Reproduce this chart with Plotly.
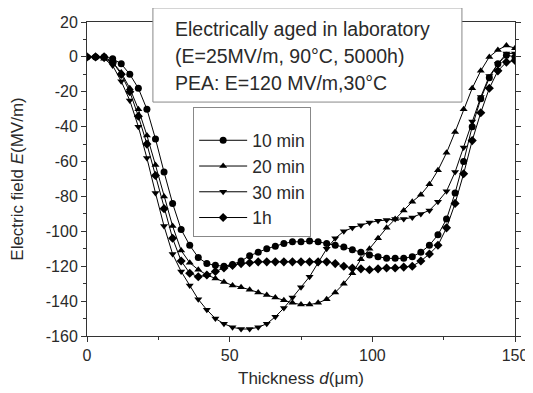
import plotly.graph_objects as go

thickness = [0, 3, 6, 9, 12, 15, 18, 21, 24, 27, 30, 33, 36, 39, 42, 45, 48, 51, 54, 57,
             60, 63, 66, 69, 72, 75, 78, 81, 84, 87, 90, 93, 96, 99, 102, 105, 108, 111, 114, 117,
             120, 123, 126, 129, 132, 135, 138, 141, 144, 147, 150]

e_10min = [0, 0, 0, -1, -4, -10, -18, -30, -47, -66, -84, -99, -108, -115, -118.5, -119.5, -120, -119, -117, -114,
           -112, -110, -108.5, -107, -106, -106, -105.5, -106, -107, -108, -109, -110.5, -112, -113.5, -114.5, -115.5, -115.5, -115.5, -114.5, -112,
           -108, -102, -93, -78, -60, -40, -24, -12, -4, 1, 0]

e_20min = [0, 0, -1, -3, -9, -18, -30, -45, -62, -80, -97, -111, -118, -122, -125, -127, -129, -131, -132, -133.5,
           -135, -136.5, -138, -139.5, -141, -142, -142, -141, -139, -135, -130, -124, -116, -110, -104, -98, -93, -88, -83, -79,
           -73, -65, -55, -43, -30, -18, -8, 0, 4, 6.5, 5]

e_30min = [0, 0, -1, -5, -14, -25, -40, -58, -78, -97, -113, -123, -131, -139, -145, -150, -153, -155, -156, -156,
           -155, -153, -149, -144, -138, -132, -126, -118, -110, -104, -100, -98, -96.5, -95, -94, -93.5, -93, -93, -92, -90,
           -88, -83, -77, -66, -52, -37, -23, -11, -4, 2, 2]

e_1h = [0, 0, 0, -3, -10, -20, -34, -50, -68, -87, -104, -117, -124, -126, -125, -123, -121, -119.5, -118.5, -118,
        -117.5, -117.5, -117.5, -117.5, -117.5, -117.5, -117.5, -117.5, -117.5, -118.5, -120, -121, -121.5, -122, -121.5, -121, -121, -120.5, -120, -117,
        -113, -108, -98, -84, -67, -48, -32, -18, -8, -3, -2]

series_names = ["10 min", "20 min", "30 min", "1h"]
series_values = [e_10min, e_20min, e_30min, e_1h]
series_symbols = ["circle", "triangle-up", "triangle-down", "diamond"]

x_ticks = [0, 50, 100, 150]
y_ticks = [-160, -140, -120, -100, -80, -60, -40, -20, 0, 20]

note_lines = ["Electrically aged in laboratory",
              "(E=25MV/m, 90°C, 5000h)",
              "PEA: E=120 MV/m,30°C"]

FONT = "Liberation Sans, Arial, sans-serif"
TXT = "#2a2a2a"

fig = go.Figure()
for name, vals, sym in zip(series_names, series_values, series_symbols):
    fig.add_trace(go.Scatter(
        x=thickness, y=vals, name=name, mode="lines+markers",
        line=dict(color="black", width=1),
        marker=dict(symbol=sym, size=7, color="black"),
    ))

axis_common = dict(
    showgrid=False, zeroline=False, showline=True, linecolor="#333", linewidth=1,
    ticks="outside", ticklen=5, tickcolor="#333", automargin=False,
    tickfont=dict(family=FONT, size=16, color=TXT),
)

fig.update_xaxes(
    range=[0, 150], tickvals=x_ticks, ticktext=[str(v) for v in x_ticks], mirror=True,
    minor=dict(dtick=25, ticks="outside", ticklen=3, tickcolor="#333"),
    title=dict(text="Thickness <i>d</i>(μm)", font=dict(family=FONT, size=17, color=TXT), standoff=8),
    **axis_common,
)
fig.update_yaxes(
    range=[-160, 20], tickvals=y_ticks, ticktext=[str(v) for v in y_ticks], mirror="ticks",
    minor=dict(dtick=10, ticks="outside", ticklen=3, tickcolor="#333"),
    title=dict(text="Electric field <i>E</i>(MV/m)", font=dict(family=FONT, size=17, color=TXT), standoff=20),
    **axis_common,
)

# note box
fig.add_shape(type="rect", xref="paper", yref="paper",
              x0=0.154, x1=0.876, y0=0.745, y1=1.045,
              line=dict(color="#888", width=1), fillcolor="white", layer="above")
for i, line in enumerate(note_lines):
    fig.add_annotation(xref="paper", yref="paper", x=0.2, y=0.978 - i * 0.086,
                       xanchor="left", yanchor="middle", showarrow=False,
                       text=line, font=dict(family=FONT, size=19.5, color=TXT))

# page body has an 8px margin, so the figure is a little smaller than the window
fig.update_layout(
    width=525, height=385,
    margin=dict(l=79, r=18, t=14, b=57),
    paper_bgcolor="white", plot_bgcolor="white",
    showlegend=True,
    legend=dict(
        x=0.248, y=0.729, xanchor="left", yanchor="top",
        bgcolor="white", bordercolor="#888", borderwidth=1,
        font=dict(family=FONT, size=17.5, color=TXT),
        title=dict(text=" ", font=dict(size=11)),
        itemwidth=48,
    ),
)

fig.write_html("out.html")
